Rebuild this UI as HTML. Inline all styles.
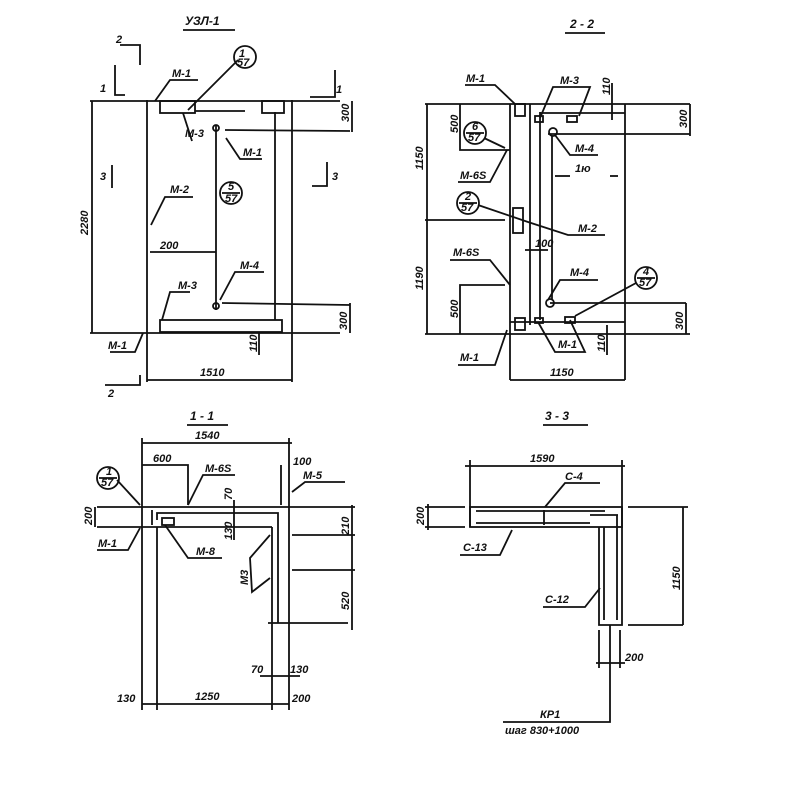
<!DOCTYPE html>
<html><head><meta charset="utf-8"><style>
html,body{margin:0;padding:0;background:#fff}
svg{display:block}
text{font-family:"Liberation Sans","Noto Sans CJK SC",sans-serif;font-style:italic;font-weight:bold;font-size:11px;fill:#111}
.t{font-size:12px}
</style></head><body>
<svg width="800" height="800" viewBox="0 0 800 800" fill="none" stroke="#111" stroke-width="1.8">
<text x="185" y="25" class="t" stroke="none">УЗЛ-1</text>
<line x1="183" y1="30" x2="235" y2="30"/>
<line x1="147" y1="100" x2="147" y2="382"/>
<line x1="292" y1="100" x2="292" y2="382"/>
<line x1="275" y1="112" x2="275" y2="320"/>
<line x1="90" y1="101" x2="340" y2="101"/>
<line x1="90" y1="333" x2="340" y2="333"/>
<rect x="160" y="101" width="35" height="12"/>
<rect x="262" y="101" width="22" height="12"/>
<line x1="195" y1="111" x2="245" y2="111"/>
<rect x="160" y="320" width="122" height="12"/>
<line x1="216" y1="125" x2="216" y2="310"/>
<circle cx="216" cy="306" r="3"/>
<circle cx="216" cy="128" r="3"/>
<line x1="225" y1="130" x2="350" y2="131"/>
<line x1="222" y1="303" x2="350" y2="305"/>
<line x1="92" y1="101" x2="92" y2="333"/>
<text transform="translate(88,235) rotate(-90)" stroke="none">2280</text>
<line x1="352" y1="101" x2="352" y2="132"/>
<text transform="translate(349,122) rotate(-90)" stroke="none" font-size="9">300</text>
<line x1="350" y1="303" x2="350" y2="333"/>
<text transform="translate(347,330) rotate(-90)" stroke="none" font-size="9">300</text>
<line x1="147" y1="380" x2="292" y2="380"/>
<text x="200" y="376" stroke="none">1510</text>
<line x1="259" y1="333" x2="259" y2="355"/>
<text transform="translate(257,352) rotate(-90)" stroke="none" font-size="9">110</text>
<line x1="150" y1="252" x2="216" y2="252"/>
<text x="160" y="249" stroke="none">200</text>
<polyline points="155,101 170,80 198,80"/><text x="172" y="77" stroke="none">М-1</text>
<polyline points="183,113 192,141"/><text x="185" y="137" stroke="none">М-3</text>
<polyline points="226,138 240,159 262,159"/><text x="243" y="156" stroke="none">М-1</text>
<polyline points="151,225 165,197 193,197"/><text x="170" y="193" stroke="none">М-2</text>
<polyline points="162,320 170,292 190,292"/><text x="178" y="289" stroke="none">М-3</text>
<polyline points="220,300 235,272 264,272"/><text x="240" y="269" stroke="none">М-4</text>
<polyline points="143,333 135,352 110,352"/><text x="108" y="349" stroke="none">М-1</text>
<line x1="188" y1="110" x2="238" y2="60"/>
<circle cx="245" cy="57" r="11"/>
<text x="239" y="57" stroke="none" font-size="9">1</text><text x="237" y="66" stroke="none" font-size="8">57</text>
<circle cx="231" cy="193" r="11"/>
<line x1="222" y1="193" x2="240" y2="193"/>
<text x="228" y="190" stroke="none" font-size="8">5</text><text x="225" y="202" stroke="none" font-size="8">57</text>
<polyline points="120,45 140,45 140,65"/><text x="116" y="43" stroke="none">2</text>
<polyline points="115,65 115,95 125,95"/><text x="100" y="92" stroke="none">1</text>
<polyline points="335,70 335,97 310,97"/><text x="336" y="93" stroke="none">1</text>
<polyline points="112,165 112,188"/><text x="100" y="180" stroke="none">3</text>
<polyline points="327,162 327,186 312,186"/><text x="332" y="180" stroke="none">3</text>
<polyline points="140,375 140,385 105,385"/><text x="108" y="397" stroke="none">2</text>
<text x="570" y="28" class="t" stroke="none">2 - 2</text>
<line x1="565" y1="33" x2="605" y2="33"/>
<line x1="510" y1="104" x2="510" y2="380"/>
<line x1="530" y1="104" x2="530" y2="325"/>
<line x1="625" y1="104" x2="625" y2="380"/>
<line x1="540" y1="112" x2="540" y2="320"/>
<line x1="425" y1="104" x2="690" y2="104"/>
<line x1="540" y1="113" x2="625" y2="113"/>
<line x1="425" y1="334" x2="690" y2="334"/>
<line x1="510" y1="322" x2="625" y2="322"/>
<line x1="427" y1="104" x2="427" y2="334"/>
<line x1="425" y1="220" x2="505" y2="220"/>
<text transform="translate(423,170) rotate(-90)" stroke="none">1150</text>
<text transform="translate(423,290) rotate(-90)" stroke="none">1190</text>
<polyline points="510,150 460,150 460,104"/>
<text transform="translate(458,133) rotate(-90)" stroke="none" font-size="9">500</text>
<polyline points="505,285 460,285 460,334"/>
<text transform="translate(458,318) rotate(-90)" stroke="none" font-size="9">500</text>
<line x1="510" y1="380" x2="625" y2="380"/>
<text x="550" y="376" stroke="none">1150</text>
<line x1="690" y1="104" x2="690" y2="136"/>
<line x1="548" y1="134" x2="690" y2="134"/>
<text transform="translate(687,128) rotate(-90)" stroke="none" font-size="9">300</text>
<line x1="686" y1="303" x2="686" y2="334"/>
<line x1="550" y1="303" x2="686" y2="303"/>
<text transform="translate(683,330) rotate(-90)" stroke="none" font-size="9">300</text>
<circle cx="553" cy="132" r="4"/><circle cx="550" cy="303" r="4"/>
<line x1="552" y1="136" x2="552" y2="300"/>
<rect x="515" y="104" width="10" height="12"/>
<rect x="535" y="116" width="8" height="6"/><rect x="567" y="116" width="10" height="6"/>
<rect x="535" y="318" width="8" height="5"/><rect x="565" y="317" width="10" height="6"/>
<rect x="515" y="318" width="10" height="12"/>
<rect x="513" y="208" width="10" height="25"/>
<line x1="525" y1="250" x2="548" y2="250"/><text x="535" y="247" stroke="none" font-size="9">100</text>
<line x1="612" y1="83" x2="612" y2="120"/><text transform="translate(610,95) rotate(-90)" stroke="none" font-size="9">110</text>
<line x1="607" y1="325" x2="607" y2="355"/><text transform="translate(605,352) rotate(-90)" stroke="none" font-size="9">110</text>
<text x="575" y="172" stroke="none" font-size="8">1ю</text>
<line x1="555" y1="176" x2="570" y2="176"/><line x1="610" y1="176" x2="618" y2="176"/>
<polyline points="465,85 495,85 515,104"/><text x="466" y="82" stroke="none">М-1</text>
<polyline points="540,118 553,87 590,87 579,116"/><text x="560" y="84" stroke="none">М-3</text>
<polyline points="555,135 570,155 598,155"/><text x="575" y="152" stroke="none">М-4</text>
<polyline points="507,150 490,182 458,182"/><text x="460" y="179" stroke="none">М-6S</text>
<circle cx="475" cy="133" r="11"/><line x1="466" y1="133" x2="484" y2="133"/>
<text x="472" y="130" stroke="none" font-size="8">6</text><text x="468" y="141" stroke="none" font-size="8">57</text>
<line x1="484" y1="138" x2="505" y2="148"/>
<circle cx="468" cy="203" r="11"/><line x1="459" y1="203" x2="477" y2="203"/>
<text x="465" y="200" stroke="none" font-size="8">2</text><text x="461" y="211" stroke="none" font-size="8">57</text>
<polyline points="478,205 528,222 568,235 605,235"/><text x="578" y="232" stroke="none">М-2</text>
<polyline points="510,285 490,260 450,260"/><text x="453" y="256" stroke="none">М-6S</text>
<polyline points="548,300 560,280 598,280"/><text x="570" y="276" stroke="none">М-4</text>
<circle cx="646" cy="278" r="11"/><line x1="637" y1="278" x2="655" y2="278"/>
<text x="643" y="275" stroke="none" font-size="8">4</text><text x="639" y="286" stroke="none" font-size="8">57</text>
<line x1="636" y1="283" x2="575" y2="316"/>
<polyline points="538,322 555,352 585,352 570,320"/><text x="558" y="348" stroke="none">М-1</text>
<polyline points="507,330 495,365 458,365"/><text x="460" y="361" stroke="none">М-1</text>
<text x="190" y="420" class="t" stroke="none">1 - 1</text>
<line x1="187" y1="425" x2="228" y2="425"/>
<line x1="142" y1="443" x2="292" y2="443"/><text x="195" y="439" stroke="none">1540</text>
<line x1="142" y1="438" x2="142" y2="710"/>
<line x1="289" y1="438" x2="289" y2="710"/>
<line x1="97" y1="507" x2="355" y2="507"/>
<line x1="97" y1="527" x2="272" y2="527"/>
<line x1="157" y1="527" x2="157" y2="710"/>
<line x1="152" y1="510" x2="152" y2="525"/>
<polyline points="157,520 157,513 278,513 278,623"/>
<line x1="272" y1="527" x2="272" y2="710"/>
<line x1="268" y1="623" x2="348" y2="623"/>
<line x1="292" y1="535" x2="355" y2="535"/>
<line x1="292" y1="570" x2="355" y2="570"/>
<line x1="352" y1="505" x2="352" y2="630"/>
<text transform="translate(349,535) rotate(-90)" stroke="none" font-size="9">210</text>
<text transform="translate(349,610) rotate(-90)" stroke="none" font-size="9">520</text>
<line x1="95" y1="507" x2="95" y2="527"/><text transform="translate(92,525) rotate(-90)" stroke="none" font-size="9">200</text>
<polyline points="142,465 188,465 188,505"/><text x="153" y="462" stroke="none">600</text>
<line x1="281" y1="465" x2="281" y2="505"/><text x="293" y="465" stroke="none">100</text>
<line x1="234" y1="500" x2="234" y2="540"/><text transform="translate(232,500) rotate(-90)" stroke="none" font-size="9">70</text>
<text transform="translate(232,540) rotate(-90)" stroke="none" font-size="9">130</text>
<polyline points="188,505 203,475 235,475"/><text x="205" y="472" stroke="none">М-6S</text>
<polyline points="292,492 305,482 345,482"/><text x="303" y="479" stroke="none">М-5</text>
<circle cx="108" cy="478" r="11"/><line x1="99" y1="478" x2="117" y2="478"/>
<text x="106" y="475" stroke="none" font-size="8">1</text><text x="101" y="486" stroke="none" font-size="8">57</text>
<line x1="117" y1="480" x2="140" y2="505"/>
<polyline points="140,528 128,550 97,550"/><text x="98" y="547" stroke="none">М-1</text>
<rect x="162" y="518" width="12" height="7"/>
<polyline points="165,525 188,558 222,558"/><text x="196" y="555" stroke="none">М-8</text>
<polyline points="270,535 250,558 252,592 270,578"/>
<text transform="translate(248,585) rotate(-90)" stroke="none" font-size="10">М3</text>
<line x1="142" y1="704" x2="289" y2="704"/>
<text x="117" y="702" stroke="none">130</text>
<text x="195" y="700" stroke="none">1250</text>
<text x="292" y="702" stroke="none">200</text>
<line x1="260" y1="676" x2="300" y2="676"/>
<text x="251" y="673" stroke="none">70</text><text x="290" y="673" stroke="none">130</text>
<text x="545" y="420" class="t" stroke="none">3 - 3</text>
<line x1="543" y1="425" x2="588" y2="425"/>
<line x1="465" y1="466" x2="625" y2="466"/><text x="530" y="462" stroke="none">1590</text>
<line x1="470" y1="460" x2="470" y2="527"/>
<line x1="622" y1="460" x2="622" y2="507"/>
<rect x="470" y="507" width="152" height="20"/>
<polyline points="599,527 599,625 622,625 622,507"/>
<line x1="476" y1="511" x2="605" y2="511"/>
<line x1="476" y1="523" x2="590" y2="523"/>
<line x1="544" y1="510" x2="544" y2="525"/>
<line x1="604" y1="527" x2="604" y2="620"/>
<line x1="617" y1="515" x2="617" y2="620"/>
<line x1="590" y1="515" x2="618" y2="515"/>
<line x1="425" y1="507" x2="465" y2="507"/><line x1="425" y1="527" x2="465" y2="527"/>
<line x1="428" y1="504" x2="428" y2="530"/>
<text transform="translate(424,525) rotate(-90)" stroke="none" font-size="9">200</text>
<line x1="628" y1="507" x2="688" y2="507"/>
<line x1="628" y1="625" x2="683" y2="625"/>
<line x1="683" y1="507" x2="683" y2="625"/>
<text transform="translate(680,590) rotate(-90)" stroke="none">1150</text>
<polyline points="545,507 565,483 600,483"/><text x="565" y="480" stroke="none">С-4</text>
<polyline points="512,530 500,555 460,555"/><text x="463" y="551" stroke="none">С-13</text>
<polyline points="600,588 585,607 543,607"/><text x="545" y="603" stroke="none">С-12</text>
<line x1="599" y1="630" x2="599" y2="668"/><line x1="620" y1="630" x2="620" y2="668"/>
<line x1="596" y1="663" x2="625" y2="663"/><text x="625" y="661" stroke="none">200</text>
<polyline points="610,625 610,722 503,722"/>
<text x="540" y="718" stroke="none">КР1</text>
<text x="505" y="734" stroke="none">шаг 830+1000</text>
</svg>
</body></html>
